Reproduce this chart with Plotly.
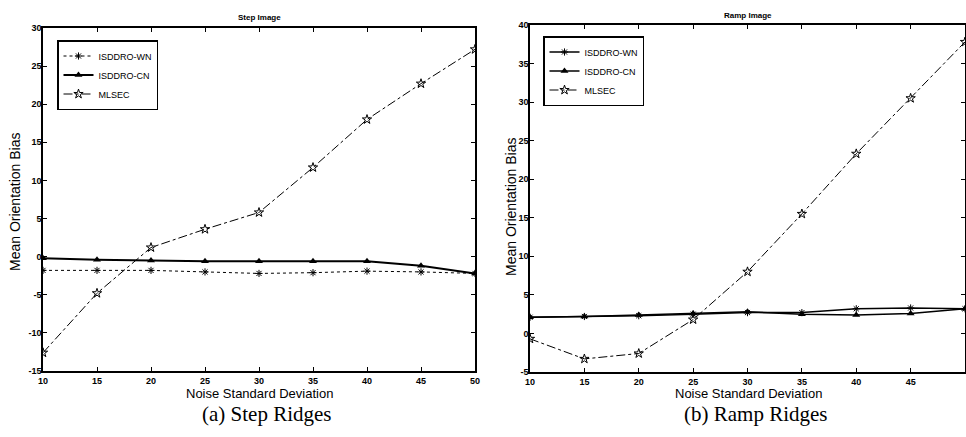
import plotly.graph_objects as go

noise = [10, 15, 20, 25, 30, 35, 40, 45, 50]

# (a) Step image
step_wn = [-1.8, -1.8, -1.8, -2.0, -2.2, -2.1, -1.9, -2.0, -2.2]
step_cn = [-0.2, -0.4, -0.5, -0.6, -0.6, -0.6, -0.6, -1.2, -2.2]
step_mlsec = [-12.6, -4.8, 1.2, 3.6, 5.8, 11.7, 18.0, 22.7, 27.2]

# (b) Ramp image
ramp_wn = [2.1, 2.2, 2.3, 2.5, 2.7, 2.7, 3.2, 3.3, 3.2]
ramp_cn = [2.1, 2.2, 2.4, 2.6, 2.8, 2.5, 2.4, 2.6, 3.2]
ramp_mlsec = [-0.7, -3.3, -2.6, 1.8, 8.0, 15.5, 23.3, 30.5, 37.8]

series_names = ["ISDDRO-WN", "ISDDRO-CN", "MLSEC"]
x_ticks = [10, 15, 20, 25, 30, 35, 40, 45, 50]
step_yticks = [-15, -10, -5, 0, 5, 10, 15, 20, 25, 30]
ramp_yticks = [-5, 0, 5, 10, 15, 20, 25, 30, 35, 40]

titles = ["Step Image", "Ramp Image"]
captions = ["(a) Step Ridges", "(b) Ramp Ridges"]
xlabel = "Noise Standard Deviation"
ylabel = "Mean Orientation Bias"

W, H = 966, 437
fig = go.Figure()

def px(v):
    return v / W

def py(v):
    return 1 - v / H

tickfont = dict(family="Liberation Sans", size=9, color="black")

def bold(vals):
    return ["<b>" + str(v) + "</b>" for v in vals]

# Left chart traces
fig.add_trace(go.Scatter(x=noise, y=step_wn, name=series_names[0], mode="lines+markers",
                         line=dict(color="black", width=1, dash="dot"),
                         marker=dict(symbol="asterisk-open", size=6, color="black", line=dict(width=1, color="black")),
                         xaxis="x", yaxis="y", legend="legend"))
fig.add_trace(go.Scatter(x=noise, y=step_cn, name=series_names[1], mode="lines+markers",
                         line=dict(color="black", width=2),
                         marker=dict(symbol="triangle-up", size=7, color="black"),
                         xaxis="x", yaxis="y", legend="legend"))
fig.add_trace(go.Scatter(x=noise, y=step_mlsec, name=series_names[2], mode="lines+markers",
                         line=dict(color="black", width=1, dash="dashdot"),
                         marker=dict(symbol="star-open", size=7, color="black", line=dict(width=1, color="black")),
                         xaxis="x", yaxis="y", legend="legend"))

# Right chart traces
fig.add_trace(go.Scatter(x=noise, y=ramp_wn, name=series_names[0], mode="lines+markers",
                         line=dict(color="black", width=1.5),
                         marker=dict(symbol="asterisk-open", size=6, color="black", line=dict(width=1, color="black")),
                         xaxis="x2", yaxis="y2", legend="legend2"))
fig.add_trace(go.Scatter(x=noise, y=ramp_cn, name=series_names[1], mode="lines+markers",
                         line=dict(color="black", width=1.5),
                         marker=dict(symbol="triangle-up", size=7, color="black"),
                         xaxis="x2", yaxis="y2", legend="legend2"))
fig.add_trace(go.Scatter(x=noise, y=ramp_mlsec, name=series_names[2], mode="lines+markers",
                         line=dict(color="black", width=1, dash="dashdot"),
                         marker=dict(symbol="star-open", size=7, color="black", line=dict(width=1, color="black")),
                         xaxis="x2", yaxis="y2", legend="legend2"))

axis_common = dict(showline=True, linecolor="black", linewidth=1.5, mirror="ticks",
                   ticks="inside", ticklen=4, tickwidth=1, tickcolor="black",
                   showgrid=False, zeroline=False, tickfont=tickfont, automargin=False)

legend_common = dict(xanchor="left", yanchor="top",
                     bordercolor="black", borderwidth=1.5, bgcolor="white",
                     font=dict(family="Liberation Sans", size=9, color="black"),
                     tracegroupgap=0, itemwidth=30)

fig.update_layout(
    width=W, height=H, margin=dict(l=0, r=0, t=0, b=0),
    paper_bgcolor="white", plot_bgcolor="white", template="none",
    xaxis=dict(domain=[px(43), px(475)], range=[10, 50], tickvals=x_ticks,
               ticktext=bold(x_ticks), anchor="y", **axis_common),
    yaxis=dict(domain=[py(371), py(28)], range=[-15, 30], tickvals=step_yticks,
               ticktext=bold(step_yticks), anchor="x", ticklabelstandoff=-2, **axis_common),
    xaxis2=dict(domain=[px(530), px(965)], range=[10, 50], tickvals=x_ticks,
                ticktext=bold(x_ticks), anchor="y2", **axis_common),
    yaxis2=dict(domain=[py(372), py(25)], range=[-5, 40], tickvals=ramp_yticks,
                ticktext=bold(ramp_yticks), anchor="x2", ticklabelstandoff=-2, **axis_common),
    legend=dict(x=px(57), y=py(40), **legend_common),
    legend2=dict(x=px(543), y=py(36), **legend_common),
)

ann_font_small = dict(family="Liberation Sans", size=8, color="black")
xlabel_font = dict(family="Liberation Sans", size=13, color="black")
ylabel_font = dict(family="Liberation Sans", size=14, color="black")
cap_font = dict(family="Liberation Serif", size=21, color="black")

centers = [(43 + 475) / 2, (530 + 966) / 2]
title_y = [18, 15]
for i in range(2):
    fig.add_annotation(text="<b>" + titles[i] + "</b>", x=px(centers[i]), y=py(title_y[i]),
                       xref="paper", yref="paper", showarrow=False, font=ann_font_small,
                       xanchor="center", yanchor="middle")
    fig.add_annotation(text=xlabel, x=px(centers[i]), y=py(393), xref="paper", yref="paper",
                       showarrow=False, font=xlabel_font, xanchor="center", yanchor="middle")
    fig.add_annotation(text=captions[i], x=px(centers[i] + 7), y=py(414), xref="paper", yref="paper",
                       showarrow=False, font=cap_font, xanchor="center", yanchor="middle")

fig.add_annotation(text=ylabel, x=px(15), y=py(202), xref="paper", yref="paper", textangle=-90,
                   showarrow=False, font=ylabel_font, xanchor="center", yanchor="middle")
fig.add_annotation(text=ylabel, x=px(511), y=py(207), xref="paper", yref="paper", textangle=-90,
                   showarrow=False, font=ylabel_font, xanchor="center", yanchor="middle")

fig.write_html("out.html")
